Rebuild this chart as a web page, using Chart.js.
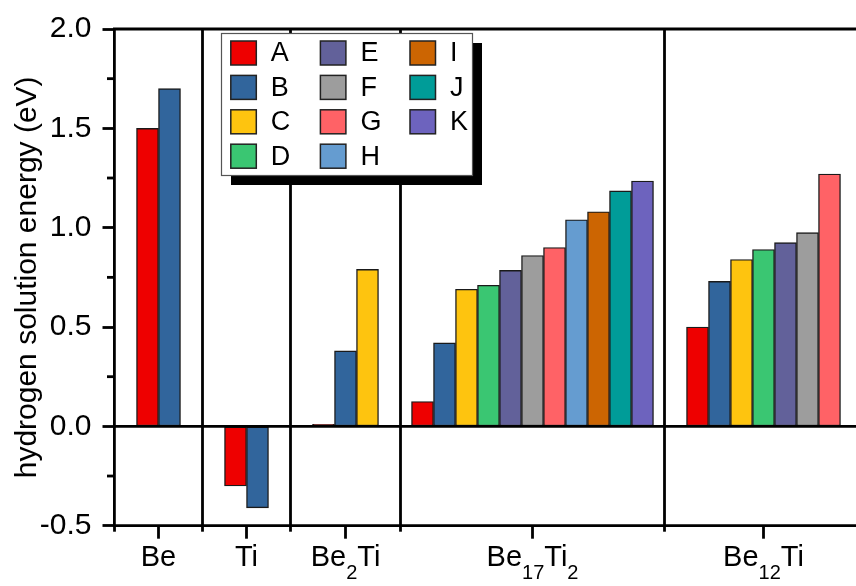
<!DOCTYPE html>
<html><head><meta charset="utf-8">
<script src="https://cdn.jsdelivr.net/npm/chart.js@4.4.1/dist/chart.umd.min.js"></script>
<style>
html,body{margin:0;padding:0;background:#fff;overflow:hidden;width:856px;height:586px;}
#wrap{position:absolute;left:0;top:0;width:863px;height:586px;}
canvas{display:block;}
</style></head><body>
<div id="wrap"><canvas id="c" width="863" height="586" style="width:863px;height:586px"></canvas></div>
<script>
// ---- data ----
const groups = ['Be', 'Ti', 'Be2Ti', 'Be17Ti2', 'Be12Ti'];
const series = ['A', 'B', 'C', 'D', 'E', 'F', 'G', 'H', 'I', 'J', 'K'];
const valuesBe = [1.50, 1.70];
const valuesTi = [-0.30, -0.41];
const valuesBe2Ti = [0.01, 0.38, 0.79];
const valuesBe17Ti2 = [0.125, 0.42, 0.69, 0.71, 0.785, 0.86, 0.90, 1.04, 1.08, 1.185, 1.235];
const valuesBe12Ti = [0.50, 0.73, 0.84, 0.89, 0.925, 0.975, 1.27];
const yTicks = [-0.5, 0.0, 0.5, 1.0, 1.5, 2.0];
const yTitle = 'hydrogen solution energy (eV)';

// ---- style / layout ----
const groupValues = [valuesBe, valuesTi, valuesBe2Ti, valuesBe17Ti2, valuesBe12Ti];
const colors = ['#EE0000', '#31659C', '#FEC40F', '#3AC672', '#62619A', '#9D9D9D',
                '#FF6266', '#659CD0', '#CC6502', '#009C98', '#6D63BE'];
const groupPad = [1, 1, 1, 0.5, 1];
const FONT = "'Liberation Sans', Arial, sans-serif";
const LINE = 2.8;

// slot layout (in bar units)
const groupStart = [];
const groupEnd = [];
let acc = 0;
groupValues.forEach((vals, g) => {
  groupStart.push(acc);
  acc += vals.length + 2 * groupPad[g];
  groupEnd.push(acc);
});
const xMax = acc;
const barPos = (g, s) => groupStart[g] + groupPad[g] + s + 0.5;
const groupCenter = g => (groupStart[g] + groupEnd[g]) / 2;

const datasets = series.map((name, s) => {
  const data = [];
  groupValues.forEach((vals, g) => {
    if (s < vals.length) data.push({x: barPos(g, s), y: vals[s]});
  });
  return {
    label: name,
    data,
    backgroundColor: colors[s],
    borderColor: '#1a1a1a',
    borderWidth: 1.4,
    borderSkipped: false,
    grouped: false,
    barPercentage: 1,
    categoryPercentage: 1
  };
});

function drawSubLabel(ctx, text, cx, baseY, size) {
  // digits are drawn as subscripts
  const parts = [];
  const re = /(\d+)|(\D+)/g;
  let m;
  while ((m = re.exec(text))) parts.push({t: m[0], sub: !!m[1]});
  const subSize = Math.round(size * 0.7);
  let total = 0;
  parts.forEach(p => {
    ctx.font = (p.sub ? subSize : size) + 'px ' + FONT;
    p.w = ctx.measureText(p.t).width;
    total += p.w;
  });
  let x = cx - total / 2;
  ctx.textAlign = 'left';
  ctx.textBaseline = 'alphabetic';
  parts.forEach(p => {
    ctx.font = (p.sub ? subSize : size) + 'px ' + FONT;
    ctx.fillText(p.t, x, p.sub ? baseY + 13 : baseY);
    x += p.w;
  });
}

const decor = {
  id: 'decor',
  beforeDatasetsDraw(chart) {
    const {ctx, chartArea: a, scales: {x}} = chart;
    ctx.save();
    ctx.strokeStyle = '#000';
    ctx.lineWidth = LINE;
    for (let g = 1; g < groups.length; g++) {
      const px = x.getPixelForValue(groupStart[g]);
      ctx.beginPath(); ctx.moveTo(px, a.top); ctx.lineTo(px, a.bottom); ctx.stroke();
    }
    ctx.restore();
  },
  afterDatasetsDraw(chart) {
    const {ctx, chartArea: a, scales: {x, y}} = chart;
    ctx.save();
    ctx.strokeStyle = '#000';
    ctx.lineWidth = LINE;
    // zero line
    const y0 = y.getPixelForValue(0);
    ctx.beginPath(); ctx.moveTo(a.left, y0); ctx.lineTo(a.right, y0); ctx.stroke();
    // top & bottom frame
    ctx.beginPath(); ctx.moveTo(a.left - 1.5, a.top); ctx.lineTo(a.right, a.top); ctx.stroke();
    ctx.beginPath(); ctx.moveTo(a.left - 1.5, a.bottom); ctx.lineTo(a.right, a.bottom); ctx.stroke();
    // y minor ticks
    for (let i = 0; i < yTicks.length - 1; i++) {
      const py = y.getPixelForValue((yTicks[i] + yTicks[i + 1]) / 2);
      ctx.beginPath(); ctx.moveTo(a.left - 7.5, py); ctx.lineTo(a.left, py); ctx.stroke();
    }
    // x ticks: minor at group boundaries, major at group centers
    const bounds = groupStart.concat([xMax]);
    bounds.forEach(v => {
      const px = x.getPixelForValue(v);
      ctx.beginPath(); ctx.moveTo(px, a.bottom); ctx.lineTo(px, a.bottom + 6); ctx.stroke();
    });
    ctx.fillStyle = '#000';
    groups.forEach((name, g) => {
      const px = x.getPixelForValue(groupCenter(g));
      ctx.beginPath(); ctx.moveTo(px, a.bottom); ctx.lineTo(px, a.bottom + 13); ctx.stroke();
      drawSubLabel(ctx, name, px, a.bottom + 40.5, 29);
    });
    // y title
    ctx.save();
    ctx.translate(35.5, (a.top + a.bottom) / 2);
    ctx.rotate(-Math.PI / 2);
    ctx.font = '30px ' + FONT;
    ctx.textAlign = 'center';
    ctx.textBaseline = 'alphabetic';
    ctx.fillStyle = '#000';
    ctx.fillText(yTitle, 0, 0);
    ctx.restore();
    // legend
    const L = 221.5, T = 33.5, W = 251, H = 142;
    ctx.fillStyle = '#000';
    ctx.fillRect(L + 9.5, T + 9.5, W, H);
    ctx.fillStyle = '#fff';
    ctx.fillRect(L, T, W, H);
    ctx.lineWidth = 1.2;
    ctx.strokeStyle = '#555';
    ctx.strokeRect(L, T, W, H);
    series.forEach((name, s) => {
      const col = Math.floor(s / 4), row = s % 4;
      const sx = L + 9.3 + col * 89.6;
      const sy = T + 7.5 + row * 34.4;
      ctx.fillStyle = colors[s];
      ctx.fillRect(sx, sy, 25.5, 24);
      ctx.lineWidth = 1.5;
      ctx.strokeStyle = '#222';
      ctx.strokeRect(sx, sy, 25.5, 24);
      ctx.fillStyle = '#000';
      ctx.font = '27px ' + FONT;
      ctx.textAlign = 'left';
      ctx.textBaseline = 'middle';
      ctx.fillText(name, sx + 40, sy + 13);
    });
    ctx.restore();
  }
};

new Chart(document.getElementById('c'), {
  type: 'bar',
  data: {datasets},
  options: {
    responsive: false,
    devicePixelRatio: 1,
    animation: false,
    layout: {padding: {top: 19, bottom: 60.3, left: 0, right: 0.5}},
    plugins: {legend: {display: false}, tooltip: {enabled: false}},
    scales: {
      x: {type: 'linear', min: 0, max: xMax, display: false, offset: false},
      y: {
        min: yTicks[0], max: yTicks[yTicks.length - 1],
        afterBuildTicks: s => { s.ticks = yTicks.map(v => ({value: v})); },
        afterFit: s => { s.width = 114.5; },
        ticks: {
          callback: v => Number(v).toFixed(1),
          font: {family: FONT, size: 30},
          color: '#000',
          padding: 11
        },
        grid: {drawOnChartArea: false, drawTicks: true, tickLength: 12, tickWidth: LINE, tickColor: '#000'},
        border: {display: true, width: LINE, color: '#000'},
        title: {display: false}
      }
    }
  },
  plugins: [decor]
});
</script>
</body></html>
